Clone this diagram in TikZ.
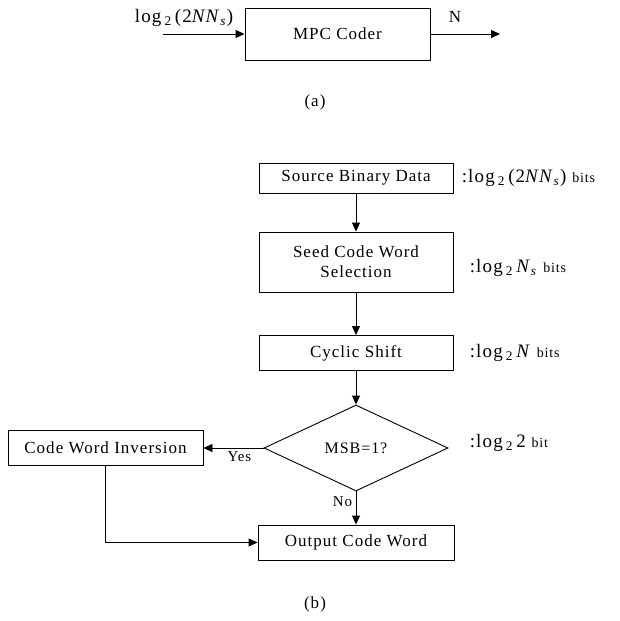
\documentclass[tikz,border=0pt]{standalone}
\usepackage{fontspec}
\setmainfont{Liberation Serif}[LetterSpace=6]
\usetikzlibrary{shapes.geometric,arrows.meta}
\newcommand{\lgtwo}{log\,\textsubscript{2}\,}
\begin{document}
\begin{tikzpicture}[x=1pt,y=-1pt,line width=0.9pt,
  box/.style={draw,rectangle,minimum width=194pt,inner sep=0pt,font=\fontsize{17}{20}\selectfont,align=center},
  cond/.style={draw,diamond,aspect=2,inner sep=0pt,minimum width=184pt,minimum height=86pt,font=\fontsize{16}{19}\selectfont},
  note/.style={anchor=west,font=\fontsize{19}{22}\selectfont},
  tag/.style={font=\fontsize{15}{18}\selectfont},
  arr/.style={-{Triangle[length=9pt,width=8pt]}}]
\useasboundingbox (0,0) rectangle (620,621);

% (a)
\node[box,minimum width=185pt,minimum height=52pt] (coder) at (337.5,34) {MPC Coder};
\coordinate (cin) at (163,34);
\coordinate (cout) at (500,34);
\draw[arr] (cin) -- (coder.west);
\draw[arr] (coder.east) -- (cout);
\node[anchor=east,font=\fontsize{19}{22}\selectfont] (inlab) at (237,18) {\lgtwo(2\textit{NN}\textsubscript{\textit{s}})};
\node[font=\fontsize{17}{20}\selectfont] (outlab) at (455,17) {N};
\node[font=\fontsize{17}{20}\selectfont] (capa) at (315,102) {(a)};

% (b)
\node[box,minimum height=30pt] (src) at (356,178) {Source Binary Data};
\node[box,minimum height=60pt] (seed) at (356,262) {Seed Code Word\\Selection};
\node[box,minimum height=35pt] (cyc) at (356,353) {Cyclic Shift};
\node[cond] (msb) at (356,448) {MSB=1?};
\node[box,minimum width=195pt,minimum height=35pt] (inv) at (105.5,448) {Code Word Inversion};
\node[box,minimum width=196pt,minimum height=35pt] (outw) at (356,542.5) {Output Code Word};

\node[note] (n1) at (458,178) {:\lgtwo(2\textit{NN}\textsubscript{\textit{s}}) {\fontsize{14}{16}\selectfont bits}};
\node[note] (n2) at (466,268) {:\lgtwo\textit{N}\textsubscript{\textit{s}} {\fontsize{14}{16}\selectfont bits}};
\node[note] (n3) at (466,353) {:\lgtwo\textit{N} {\fontsize{14}{16}\selectfont bits}};
\node[note] (n4) at (466,443) {:\lgtwo 2 {\fontsize{14}{16}\selectfont bit}};

\draw[arr] (src) -- (seed);
\draw[arr] (seed) -- (cyc);
\draw[arr] (cyc) -- (msb);
\draw[arr] (msb.west) -- node[below,tag,pos=0.4] {Yes} (inv.east);
\draw[arr] (msb.south) -- node[left,tag,pos=0.3] {No} (outw.north);
\draw[arr] (inv.south) |- (outw.west);

\node[font=\fontsize{17}{20}\selectfont] (capb) at (315,604) {(b)};
\end{tikzpicture}
\end{document}
